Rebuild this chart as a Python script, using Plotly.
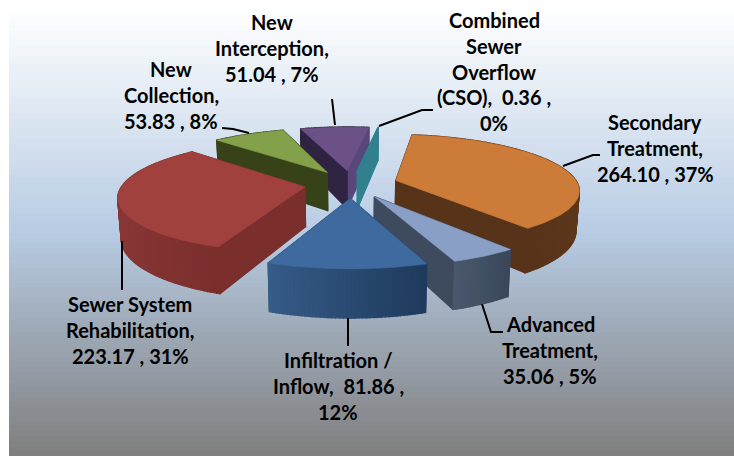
import math
import plotly.graph_objects as go

categories = ["Secondary Treatment", "Advanced Treatment", "Infiltration / Inflow",
              "Sewer System Rehabilitation", "New Collection", "New Interception",
              "Combined Sewer Overflow (CSO)"]
values = [264.10, 35.06, 81.86, 223.17, 53.83, 51.04, 0.36]
top_colors = ["#CC7B38", "#8A9FC5", "#3F6A9F", "#A0413E", "#83A04A", "#6B5186", "#31808F"]
start_wall = ["#57331A", "#3E4A5E", "#2A4A70", "#7A2F2D", "#374219", "#2E2340", "#31808F"]
end_wall = ["#57331A", "#3E4A5E", "#2A4A70", "#7A2F2D", "#374219", "#59467A", "#31808F"]
arc_left = ["#4F2E17", "#4A586D", "#365C88", "#8A3836", "#374219", "#2E2340", "#31808F"]
arc_right = ["#5E381C", "#3A475B", "#1F3A5C", "#7A2F2D", "#374219", "#2E2340", "#31808F"]
draw_order = [5, 6, 4, 0, 3, 1, 2]
label_lines = [
    ["Secondary", "Treatment,", "264.10 , 37%"],
    ["Advanced", "Treatment,", "35.06 , 5%"],
    ["Infiltration /", "Inflow,  81.86 ,", "12%"],
    ["Sewer System", "Rehabilitation,", "223.17 , 31%"],
    ["New", "Collection,", "53.83 , 8%"],
    ["New", "Interception,", "51.04 , 7%"],
    ["Combined", "Sewer", "Overflow", "(CSO),  0.36 ,", "0%"],
]
label_anchor = [(655, 122), (550, 324), (338, 360), (130, 304), (171, 69), (272, 22), (494, 20)]
leaders = [
    [(600, 155), (593, 155), (563, 166)],
    [(482, 304), (491, 332), (503, 332)],
    [(348, 318), (348, 346)],
    [(122, 241), (122, 290)],
    [(222, 128), (233, 129), (249, 133)],
    [(332, 99), (335, 125)],
    [(433, 110), (422, 110), (379, 126)],
]
LINE_GAP = 25.8

START = 8.2
EXPLODE = 0.257
CX, HORIZON, AX, BY, PERSP, HEIGHT, TAPER = 351, -164, 182, 348, 0.156, 39.5, 0.985


def project(X, Y, z):
    s = 1 / (1 + PERSP * Y)
    x = AX * X * s
    if z:
        x *= TAPER
    return CX + x, HORIZON + BY * s + HEIGHT * s * z


def mix(c1, c2, t):
    a = [int(c1[i:i + 2], 16) for i in (1, 3, 5)]
    b = [int(c2[i:i + 2], 16) for i in (1, 3, 5)]
    return "#%02X%02X%02X" % tuple(round(p + (q - p) * t) for p, q in zip(a, b))


def poly(fig, pts, color, w=0.6):
    fig.add_trace(go.Scatter(x=[p[0] for p in pts] + [pts[0][0]],
                             y=[p[1] for p in pts] + [pts[0][1]],
                             mode="lines", fill="toself", fillcolor=color,
                             line=dict(color=color, width=w),
                             hoverinfo="skip", showlegend=False))


fig = go.Figure()
ramp = [i / 90 for i in range(91)]
fig.add_trace(go.Heatmap(x=[9, 371, 734], y=[5 + 451 * i / 91 for i in range(92)],
                         z=[[t, t] for t in ramp], zmin=0, zmax=1, showscale=False,
                         hoverinfo="skip",
                         colorscale=[[0, "#FFFFFF"], [0.5, "#B8CCE4"], [1, "#7F7F7F"]]))

total = sum(values)
angles = []
cur = START
for v in values:
    angles.append((cur, cur + v / total * 360))
    cur += v / total * 360

for i in draw_order:
    a, b = angles[i]
    m = math.radians((a + b) / 2)
    ox, oy = EXPLODE * math.sin(m), EXPLODE * math.cos(m)
    n = max(2, int(b - a) + 1)
    rim = []
    for j in range(n + 1):
        t = math.radians(a + (b - a) * j / n)
        rim.append((ox + math.sin(t), oy + math.cos(t)))
    apex = (ox, oy)
    walls = [((apex[1] + rim[0][1]) / 2, [apex, rim[0]], start_wall[i]),
             ((apex[1] + rim[-1][1]) / 2, [apex, rim[-1]], end_wall[i])]
    xs = [r[0] for r in rim]
    xmin, xmax = min(xs), max(xs)
    for j in range(n):
        frac = ((rim[j][0] + rim[j + 1][0]) / 2 - xmin) / (xmax - xmin or 1)
        walls.append(((rim[j][1] + rim[j + 1][1]) / 2, [rim[j], rim[j + 1]],
                      mix(arc_left[i], arc_right[i], frac)))
    for _, (p, q), color in sorted(walls, key=lambda w: -w[0]):
        poly(fig, [project(*p, 0), project(*q, 0), project(*q, 1), project(*p, 1)], color, 1.3)
    poly(fig, [project(*apex, 0)] + [project(*r, 0) for r in rim], top_colors[i])

for path in leaders:
    fig.add_trace(go.Scatter(x=[p[0] for p in path], y=[p[1] for p in path], mode="lines",
                             line=dict(color="#000000", width=2), hoverinfo="skip",
                             showlegend=False))

for lines, (lx, ly) in zip(label_lines, label_anchor):
    for k, text in enumerate(lines):
        fig.add_annotation(x=lx, y=ly + k * LINE_GAP, text=text, showarrow=False,
                           font=dict(family="Lato", size=20, color="#000000", weight="bold"),
                           xanchor="center", yanchor="middle")

fig.update_layout(width=734, height=456, margin=dict(l=0, r=0, t=0, b=0),
                  paper_bgcolor="#FFFFFF", plot_bgcolor="#FFFFFF", showlegend=False,
                  xaxis=dict(range=[0, 734], visible=False, fixedrange=True),
                  yaxis=dict(range=[456, 0], visible=False, fixedrange=True))
fig.write_html("out.html", config={"displayModeBar": False},
               post_script="document.body.style.margin='0';document.documentElement.style.overflow='hidden';")
